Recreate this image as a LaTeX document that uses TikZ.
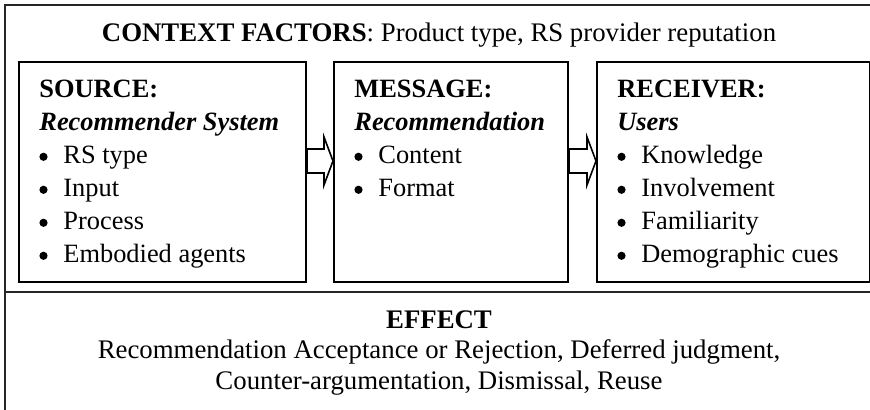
\documentclass[tikz,border=0pt]{standalone}
\usepackage{fontspec}
\setmainfont{Liberation Serif}
\usetikzlibrary{positioning,calc}
\tikzset{
  frame/.style={line width=1pt, draw=black!85},
  card/.style={draw, line width=1pt, minimum height=110pt, inner sep=0pt, anchor=north west},
  cardtext/.style={align=left, inner sep=0pt, anchor=north west, font=\fontsize{13.2}{16.5}\selectfont},
  blockarrow/.style={draw, line width=0.8pt, fill=white, line join=miter},
}
\newcommand{\itm}[1]{\makebox[12pt][l]{\raisebox{1.5pt}{\tikz\fill (0pt,0pt) circle (2.05pt);}}#1}

\begin{document}
\begin{tikzpicture}[x=0.5pt,y=-0.5pt]
\useasboundingbox (0,0) rectangle (870,410);
% outer frame, open on the right and at the bottom
\draw[frame] (5,410) -- (5,5) -- (870,5);
\draw[frame] (5,292) -- (870,292);
\node[cardtext, anchor=base, font=\fontsize{13.4}{16.5}\selectfont] (ctx) at (439,42) {\textbf{CONTEXT FACTORS}: Product type, RS provider reputation};
% the three boxes
\node[card, minimum width=143.5pt] (src) at (18,61) {};
\node[card, minimum width=117pt, right=13pt of src] (msg) {};
\node[card, minimum width=136.5pt, right=13.5pt of msg] (rcv) {};
\node[cardtext, below right=9.5pt and 10.5pt of src.north west] (srctxt)
  {\textbf{SOURCE:}\\ \textbf{\textit{Recommender System}}\\ \itm{RS type}\\ \itm{Input}\\ \itm{Process}\\ \itm{Embodied agents}};
\node[cardtext, below right=9.5pt and 10.5pt of msg.north west] (msgtxt)
  {\textbf{MESSAGE:}\\ \textbf{\textit{Recommendation}}\\ \itm{Content}\\ \itm{Format}};
\node[cardtext, below right=9.5pt and 10.5pt of rcv.north west] (rcvtxt)
  {\textbf{RECEIVER:}\\ \textbf{\textit{Users}}\\ \itm{Knowledge}\\ \itm{Involvement}\\ \itm{Familiarity}\\ \itm{Demographic cues}};
% hollow block arrows
\draw[blockarrow] ($(src.east)+(0,1)$) -- ($(src.east)+(0,-23)$) -- ($(msg.west)+(-9,-23)$) -- ($(msg.west)+(-9,-35)$)
  -- ($(msg.west)+(0,-11)$) -- ($(msg.west)+(-9,13)$) -- ($(msg.west)+(-9,1)$) -- cycle;
\draw[blockarrow] ($(msg.east)+(0,1)$) -- ($(msg.east)+(0,-23)$) -- ($(rcv.west)+(-9,-23)$) -- ($(rcv.west)+(-9,-35)$)
  -- ($(rcv.west)+(0,-11)$) -- ($(rcv.west)+(-9,13)$) -- ($(rcv.west)+(-9,1)$) -- cycle;
% effect
\node[cardtext, align=center, anchor=north, font=\fontsize{13.4}{15.3}\selectfont] (eff) at (439,310)
  {\textbf{EFFECT}\\ Recommendation Acceptance or Rejection, Deferred judgment,\\ Counter-argumentation, Dismissal, Reuse};
\end{tikzpicture}
\end{document}
